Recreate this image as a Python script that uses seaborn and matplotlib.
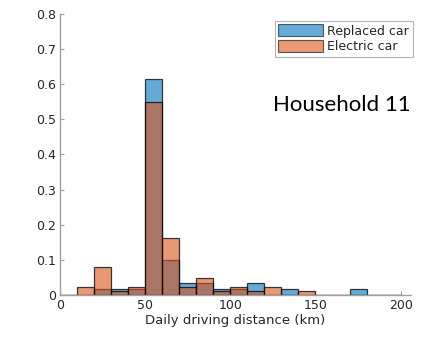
import numpy as np
import pandas as pd
import seaborn as sns
import matplotlib
matplotlib.use("Agg")
import matplotlib.pyplot as plt
from matplotlib.ticker import FuncFormatter
from matplotlib.patches import Patch

# Bin edges (km) and probabilities per 10 km bin
bin_edges = list(range(0, 210, 10))
replaced_car = [0, 0, 0.0167, 0.0167, 0.0167, 0.615, 0.1, 0.033, 0.033, 0.0167,
                0.0167, 0.033, 0, 0.0167, 0, 0, 0, 0.0167, 0, 0]
electric_car = [0, 0.023, 0.081, 0.012, 0.023, 0.548, 0.163, 0.023, 0.047, 0.012,
                0.023, 0.012, 0.023, 0, 0.012, 0, 0, 0, 0, 0]
series_names = ["Replaced car", "Electric car"]
annotation = "Household 11"
x_label = "Daily driving distance (km)"

centers = [(a + b) / 2 for a, b in zip(bin_edges[:-1], bin_edges[1:])]
df = pd.DataFrame({
    "center": centers * 2,
    "prob": replaced_car + electric_car,
    "series": [series_names[0]] * len(centers) + [series_names[1]] * len(centers),
})

sns.set_style("white")
plt.rcParams["font.family"] = ["DejaVu Sans"]

blue = (0.0, 0.447, 0.741)
orange = (0.85, 0.325, 0.098)
alpha = 0.6

fig = plt.figure(figsize=(4.24, 3.41), dpi=100)
ax = fig.add_axes([0.1415, 0.135, 0.8275, 0.824])

for name, col in zip(series_names, [blue, orange]):
    sub = df[df["series"] == name]
    sns.histplot(data=sub, x="center", weights="prob", bins=bin_edges, ax=ax,
                 color=col, alpha=alpha, edgecolor=(0, 0, 0, 0.75), linewidth=0.9,
                 stat="count", element="bars", fill=True)

ax.set_xlim(0, 206)
ax.set_ylim(0, 0.8)
ax.set_xticks([0, 50, 100, 150, 200])
ax.set_yticks(np.arange(0, 0.81, 0.1))
ax.yaxis.set_major_formatter(FuncFormatter(lambda v, p: f"{v:g}"))
ax.xaxis.set_major_formatter(FuncFormatter(lambda v, p: f"{v:g}"))
ax.set_xlabel(x_label, fontsize=9.5, color="#262626", labelpad=1)
ax.set_ylabel("")

for s in ["top", "right"]:
    ax.spines[s].set_visible(False)
for s in ["left", "bottom"]:
    ax.spines[s].set_color("#a0a0a0")
    ax.spines[s].set_linewidth(1.0)
ax.tick_params(direction="in", length=3, width=0.8, color="#a0a0a0",
               labelsize=9, labelcolor="#262626", left=True, bottom=True, pad=3)

handles = [Patch(facecolor=blue, alpha=alpha, edgecolor="black", linewidth=0.8),
           Patch(facecolor=orange, alpha=alpha, edgecolor="black", linewidth=0.8)]
leg = ax.legend(handles, series_names, loc="upper right", bbox_to_anchor=(1.012, 0.985),
                fontsize=9, frameon=True, fancybox=False, handlelength=3.6,
                handleheight=1.1, handletextpad=0.3, borderpad=0.3,
                labelspacing=0.15, borderaxespad=0.2)
leg.get_frame().set_edgecolor("#a0a0a0")
leg.get_frame().set_linewidth(0.8)

ax.text(1.0, 0.675, annotation, transform=ax.transAxes, ha="right", va="center",
        fontsize=16, family=["Lato", "DejaVu Sans"], color="black")

fig.savefig("out.png", dpi=100)
